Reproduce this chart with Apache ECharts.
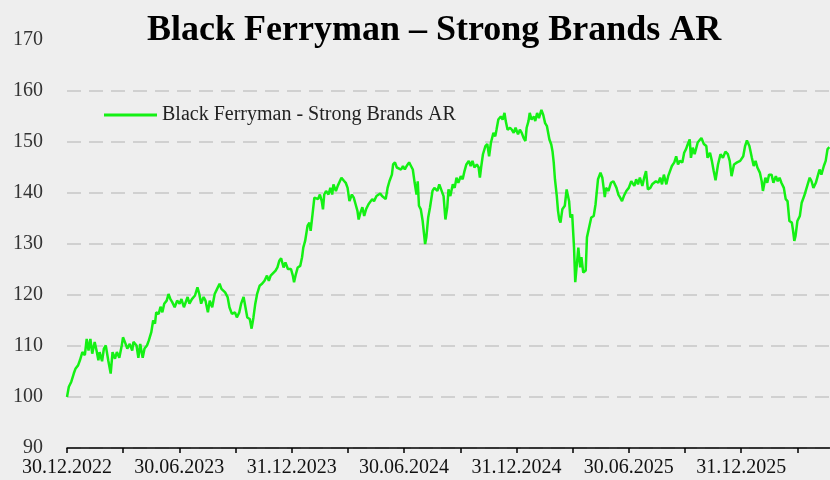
<!DOCTYPE html>
<html>
<head>
<meta charset="utf-8">
<script src="https://cdn.jsdelivr.net/npm/echarts@6/dist/echarts.min.js"></script>
<style>
html,body{margin:0;padding:0;background:#eeeeee;}
#chart{width:830px;height:480px;}
</style>
</head>
<body>
<div id="chart"></div>
<script>
// Days since 30.12.2022
var days = [0,3,7,11,14,18,21,25,29,32,35,38,41,45,48,51,53,57,60,63,67,71,74,78,81,85,89,91,94,98,102,106,108,113,116,119,123,126,130,133,137,140,143,145,149,152,155,158,162,165,168,171,175,179,183,186,190,
196,199,203,208,212,215,218,222,225,229,232,236,240,244,248,251,254,257,261,264,268,273,276,280,283,287,290,293,297,300,303,306,309,313,317,321,325,328,331,334,339,342,345,348,352,355,359,364,367,369,372,375,379,382,384,387,391,394,396,399,402,
405,408,411,414,416,418,421,425,428,431,433,437,440,443,446,450,453,456,459,463,466,469,472,474,477,480,483,486,490,493,496,499,503,506,509,512,515,518,521,524,528,530,533,536,539,543,546,549,552,556,559,562,565,568,570,572,575,578,582,584,587,590,594,597,
602,605,608,612,615,618,620,623,627,630,633,636,640,643,646,649,653,656,659,662,666,669,671,673,676,680,683,686,689,693,696,698,701,705,708,711,713,716,720,723,726,729,733,736,739,742,745,747,750,752,755,759,761,764,767,771,774,777,780,784,787,789,791,793,796,798,800,802,805,809,
812,816,818,821,824,826,829,831,834,836,839,843,845,848,852,856,859,863,867,870,874,876,880,884,888,893,896,899,902,905,909,913,917,922,925,928,931,935,938,941,944,948,951,954,957,961,964,967,970,974,977,980,983,987,990,993,996,1000,1003,1006,1009,1012,1014,1017,
1020,1025,1031,1035,1039,1041,1045,1048,1051,1054,1058,1062,1066,1070,1074,1077,1080,1084,1089,1094,1099,1102,1105,1109,1113,1116,1119,1122,1126,1129,1131,1135,1138,1141,1145,1148,1152,1155,1158,1161,1165,1168,1171,1174,1178,1180,1182,1184,1187,1191,1194,1198,1203,1207,1210,1213,1217,1220,1223,1226,1230,1233,1236,1239];

var values = [100,102,103,104.6,105.6,106.2,107.2,108.8,108.2,111.4,109.1,111.4,108.5,110.8,109.1,107.2,108.8,107.0,109.5,110.1,107.2,104.6,108.8,107.5,108.8,107.7,110.1,111.7,110.8,109.5,110.4,109.1,110.8,110.1,107.7,110.4,107.7,109.5,110.1,111.1,112.7,115,114.4,116.6,116.3,117.7,116.6,118.3,118.9,120.2,119.2,118.6,117.6,118.9,118.3,119.2,117.6,
119.6,118.3,119.2,119.9,121.5,120.2,118.3,119.6,118.9,116.6,118.9,117.6,120.2,121.2,122.2,121.2,121.5,120.5,119.6,117.6,116.3,116.6,115.6,116.6,118.3,119.6,117.6,115.6,115.3,113.4,115.6,118.3,120.2,121.8,122.2,122.8,123.8,122.8,123.8,123.8,124.8,125.4,126.7,127.2,125.4,126.4,125.1,125.1,123.8,122.5,124.1,125.4,125.7,127.4,129.3,130.6,133.6,134.2,132.6,135.8,139.1,
139.4,138.8,139.7,138.4,136.8,139.7,140.4,139.7,141,139.7,141.7,140.4,141.4,141.7,143,142.4,142,141,138.4,139.7,139.1,137.8,136.5,134.8,136.2,137.2,135.5,136.8,137.8,138.1,138.8,138.4,139.4,139.1,139.9,139.4,139.7,138.8,141,142.3,143.6,145.6,146,145,145.3,144.6,145.3,144.6,145.3,146,145.3,144.6,142,139.7,142.3,137.5,136.8,134.5,130,131.3,135.2,137.2,140.4,141,
140.4,141.7,142,139.4,134.8,137.2,140.7,139.4,141.7,141,143,142,143.3,142.7,144.3,145.6,146.3,145.3,146.3,145,145.6,145,143,145,147.6,149.2,149.6,147.2,149.9,151.8,151.1,152.4,154.4,155,154.4,155.7,154.1,152.4,152.8,152.4,151.8,152.8,151.5,152.4,151.8,150.8,150.2,152.8,154.1,155.7,154.4,155,154.1,155.7,154.7,156.3,155.3,153.7,153.1,150.5,149.5,148.2,146,142.7,139.4,136.5,134.8,134.2,136.8,137.5,
140.7,138.4,135.2,135.8,129.3,122.5,122.2,129.3,125.4,127.4,124.4,124.8,131.3,131.6,135.2,135.5,137.8,142.7,144,143,139.2,141,140.4,142,142.3,141,139.7,139.1,138.4,139.4,140.4,141,142.3,141.4,142.7,141.7,143,141.4,143,144.3,140.7,141,141.7,141.4,142.3,142,143,141.7,143.6,141.7,143.3,144.3,145.3,146,147.2,145.6,146.3,146,147.9,148.6,149.6,150.5,146.9,148.9,
147.6,149.9,150.8,149.6,149.2,146.9,147.9,146.3,144.3,142.5,145.6,147.6,146.9,148.1,147.6,146.3,143.3,145.6,146,146.3,147.2,149.2,150.3,149.2,146.9,145.3,146.3,145,144,142.3,140.4,143,142,143.6,143.6,142,143.3,142.3,143,142,141,138.8,138.4,134.5,134.2,132.6,130.6,131.6,134.5,135.5,138.1,139.4,141.4,143,142.3,141,142,143.3,144.6,143.6,145.3,146.3,148.6,149];

var quarterDays = 91.3125;
var tickLabels = ['30.12.2022','30.06.2023','31.12.2023','30.06.2024','31.12.2024','30.06.2025','31.12.2025'];
var yTicks = [90,100,110,120,130,140,150,160,170];
var titleText = 'Black Ferryman \u2013 Strong Brands AR';
var seriesName = 'Black Ferryman - Strong Brands AR';

var points = days.map(function(d,i){return [d, values[i]];});

var chart = echarts.init(document.getElementById('chart'));
var gridColors = yTicks.map(function(v,i){ return i === yTicks.length-1 ? 'rgba(0,0,0,0)' : '#c6c6c6'; });

chart.setOption({
  backgroundColor: '#eeeeee',
  animation: false,
  title: {
    text: titleText,
    left: 142, top: 8,
    textStyle: {fontFamily: 'Liberation Serif', fontWeight: 'bold', fontSize: 36, color: '#000'}
  },
  legend: {
    left: 104, top: 105, padding: 0,
    icon: 'rect', itemWidth: 53, itemHeight: 3, itemGap: 10,
    data: [seriesName],
    textStyle: {fontFamily: 'Liberation Serif', fontSize: 20, color: '#222', padding: [0,0,0,0]}
  },
  grid: {left: 67, right: 0, top: 40, bottom: 32},
  xAxis: {
    type: 'value', min: 0, max: 1240, interval: quarterDays,
    axisLine: {show: true, onZero: false, lineStyle: {color: '#000', width: 1.5}},
    axisTick: {show: true, length: 5, lineStyle: {color: '#000', width: 1.5}},
    splitLine: {show: false},
    axisLabel: {
      margin: 10, color: '#111', fontFamily: 'Liberation Serif', fontSize: 20,
      showMaxLabel: false,
      formatter: function(v){
        var q = Math.round(v/quarterDays);
        if (Math.abs(v - q*quarterDays) > 1) return '';
        if (q % 2 !== 0) return '';
        return tickLabels[q/2] || '';
      }
    }
  },
  yAxis: {
    type: 'value', min: 90, max: 170, interval: 10,
    axisLine: {show: false}, axisTick: {show: false},
    axisLabel: {margin: 24, color: '#333', fontFamily: 'Liberation Serif', fontSize: 20},
    splitLine: {show: true, lineStyle: {color: gridColors, type: [14, 8], width: 1.5}}
  },
  series: [{
    name: seriesName, type: 'line', data: points,
    symbol: 'none', smooth: false,
    lineStyle: {color: '#14f014', width: 2.5},
    itemStyle: {color: '#14f014'}
  }]
});
</script>
</body>
</html>
